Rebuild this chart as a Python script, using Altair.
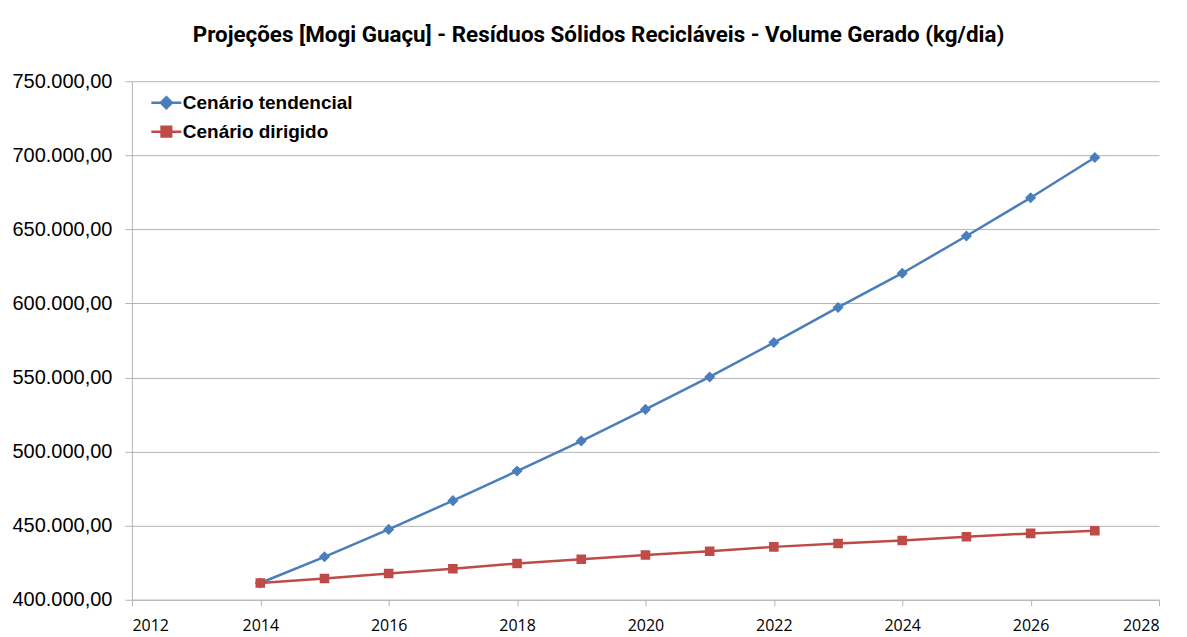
import altair as alt
import pandas as pd

years = list(range(2014, 2028))
tendencial = [411300, 429000, 447500, 466900, 486900, 507150, 528500,
              550400, 573600, 597300, 620400, 645500, 671300, 698500]
dirigido = [411300, 414300, 417700, 420900, 424500, 427300, 430200,
            432700, 435700, 438000, 440000, 442500, 444800, 446600]
series_names = ["Cenário tendencial", "Cenário dirigido"]
line_colors = ["#4A7EBB", "#BE4B48"]
marker_paths = [
    "M-1,0H1M0,-0.37L0.37,0L0,0.37L-0.37,0Z",
    "M-1,0H1M-0.32,-0.32H0.32V0.32H-0.32Z",
]
y_ticks = [400000, 450000, 500000, 550000, 600000, 650000, 700000, 750000]
x_ticks = list(range(2012, 2029, 2))
title_text = "Projeções [Mogi Guaçu] - Resíduos Sólidos Recicláveis - Volume Gerado (kg/dia)"

rows = []
for name, vals in zip(series_names, [tendencial, dirigido]):
    for yr, v in zip(years, vals):
        rows.append({"ano": yr, "valor": v, "serie": name})
df = pd.DataFrame(rows)

grid = "#B4B4B4"

x = alt.X("ano:Q", scale=alt.Scale(domain=[2012, 2028], nice=False, zero=False),
          axis=alt.Axis(values=x_ticks, format="d", title=None, grid=False,
                        domainColor=grid, tickColor=grid, tickSize=6,
                        labelFont="Open Sans", labelFontSize=16, labelColor="#000",
                        labelPadding=12))
y = alt.Y("valor:Q", scale=alt.Scale(domain=[400000, 750000], nice=False, zero=False),
          axis=alt.Axis(values=y_ticks, title=None, gridColor=grid, domainColor=grid,
                        tickColor=grid, tickSize=7, labelPadding=13,
                        labelFont="Liberation Sans", labelFontSize=20, labelColor="#000",
                        labelExpr="replace(replace(replace(format(datum.value, ',.2f'), ',', 'X'), '.', ','), 'X', '.')"))

color_scale = alt.Scale(domain=series_names, range=line_colors)
shape_scale = alt.Scale(domain=series_names, range=marker_paths)

legend = alt.Legend(title=None, orient="none", legendX=18, legendY=5,
                    labelFont="Liberation Sans", labelFontSize=19, labelFontWeight="bold",
                    labelColor="#000", labelLimit=0, symbolSize=900, symbolStrokeWidth=2.5,
                    labelOffset=0, rowPadding=1, padding=0)

lines = alt.Chart(df).mark_line(strokeWidth=2.5).encode(
    x=x, y=y,
    color=alt.Color("serie:N", scale=color_scale, legend=legend, sort=series_names),
    detail="serie:N",
)

points = alt.Chart(df).mark_point(filled=True, size=900, strokeWidth=0, opacity=1).encode(
    x=x, y=y,
    color=alt.Color("serie:N", scale=color_scale, legend=legend, sort=series_names),
    stroke=alt.Stroke("serie:N", scale=color_scale, legend=legend, sort=series_names),
    shape=alt.Shape("serie:N", scale=shape_scale, legend=legend, sort=series_names),
)

chart = alt.layer(lines, points).properties(
    width=1028, height=519,
    title=alt.TitleParams(title_text, font="Roboto", fontSize=22.4, fontWeight="bold",
                          color="#000", anchor="middle", dx=-47, offset=25),
    autosize=alt.AutoSizeParams(type="none"),
    padding={"left": 124, "top": 73, "right": 20, "bottom": 40},
).configure(background="white").configure_view(stroke=None)

chart.save("out.html", embed_options={"renderer": "svg", "actions": False})
